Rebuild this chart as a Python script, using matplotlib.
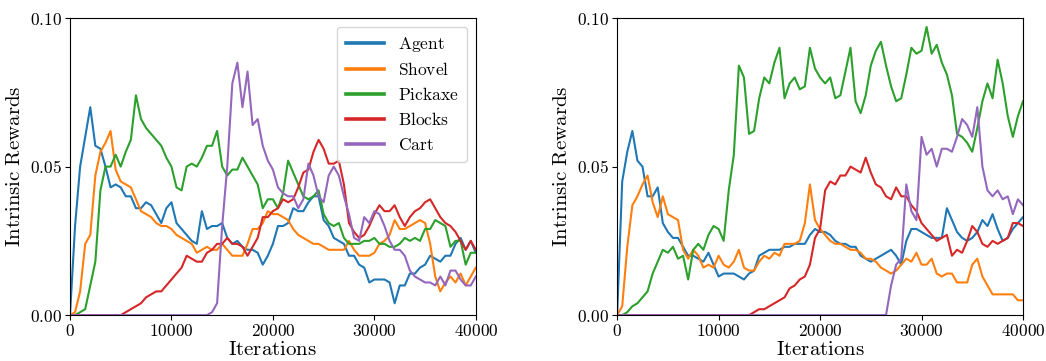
import numpy as np
import matplotlib
matplotlib.use("Agg")
import matplotlib.pyplot as plt
from matplotlib.ticker import FuncFormatter, FixedLocator

plt.rcParams['mathtext.fontset'] = 'cm'
plt.rcParams['font.family'] = ['DejaVu Serif']

# iteration grid (every 500 iterations)
iterations = np.arange(0, 40001, 500)

# values below are in units of 1e-3 (intrinsic reward)
left_agent = [0, 30, 50, 60, 70, 57, 56, 50, 43, 44,
              43, 40, 40, 36, 36, 38, 37, 34, 31, 36,
              38, 31, 29, 27, 25, 24, 35, 29, 30, 30,
              31, 26, 24, 25, 23, 22, 22, 21, 17, 20,
              24, 30, 30, 31, 36, 35, 35, 38, 40, 40,
              32, 30, 26, 25, 24, 20, 20, 17, 16, 11,
              12, 12, 12, 11, 4, 10, 10, 14, 14, 16,
              17, 20, 19, 18, 20, 20, 24, 26, 22, 25,
              21]
left_shovel = [0, 1, 8, 24, 27, 47, 55, 58, 62, 49,
               45, 44, 43, 39, 35, 34, 33, 31, 30, 30,
               29, 27, 26, 25, 24, 21, 22, 23, 22, 22,
               24, 22, 20, 20, 20, 24, 29, 29, 31, 35,
               34, 34, 33, 32, 29, 27, 26, 25, 24, 24,
               23, 22, 22, 22, 22, 25, 22, 20, 20, 20,
               21, 24, 25, 27, 32, 29, 29, 30, 31, 32,
               31, 24, 13, 8, 11, 13, 11, 14, 10, 13,
               16]
left_pickaxe = [0, 0, 1, 2, 10, 18, 42, 50, 50, 54,
                50, 55, 59, 74, 66, 63, 61, 59, 57, 53,
                50, 43, 42, 50, 51, 50, 53, 57, 57, 62,
                50, 47, 49, 49, 53, 50, 47, 44, 36, 39,
                39, 36, 41, 52, 48, 44, 40, 39, 40, 42,
                34, 31, 30, 31, 26, 24, 24, 24, 25, 25,
                26, 24, 24, 23, 23, 24, 26, 25, 26, 25,
                29, 29, 32, 31, 30, 23, 25, 25, 17, 21,
                21]
left_blocks = [0, 0, 0, 0, 0, 0, 0, 0, 0, 0,
               0, 1, 2, 3, 4, 6, 7, 8, 8, 10,
               12, 14, 16, 20, 19, 18, 18, 21, 22, 24,
               24, 26, 24, 24, 23, 20, 23, 26, 33, 33,
               35, 36, 39, 38, 39, 43, 48, 49, 55, 59,
               56, 51, 51, 52, 44, 31, 28, 26, 27, 30,
               34, 37, 35, 35, 37, 33, 30, 33, 35, 36,
               38, 39, 36, 33, 31, 30, 28, 25, 22, 25,
               22]
left_cart = [0, 0, 0, 0, 0, 0, 0, 0, 0, 0,
             0, 0, 0, 0, 0, 0, 0, 0, 0, 0,
             0, 0, 0, 0, 0, 0, 0, 0, 1, 4,
             30, 50, 78, 85, 70, 82, 64, 66, 57, 52,
             49, 43, 41, 40, 40, 36, 39, 51, 47, 40,
             38, 47, 50, 47, 40, 34, 26, 25, 33, 31,
             35, 34, 30, 25, 22, 22, 20, 15, 13, 12,
             11, 11, 10, 13, 10, 15, 15, 12, 10, 10,
             13]

right_agent = [0, 45, 55, 62, 52, 50, 40, 40, 43, 31,
               28, 26, 26, 23, 20, 20, 19, 18, 21, 17,
               13, 14, 14, 14, 13, 12, 14, 15, 20, 21,
               22, 22, 22, 23, 23, 24, 24, 24, 27, 29,
               28, 28, 27, 25, 24, 24, 23, 23, 20, 19,
               18, 19, 20, 21, 22, 20, 17, 25, 29, 29,
               28, 27, 26, 26, 26, 36, 32, 28, 26, 25,
               26, 28, 32, 30, 34, 29, 25, 26, 29, 31,
               33]
right_shovel = [0, 3, 23, 37, 40, 44, 47, 38, 33, 40,
                34, 33, 32, 22, 19, 22, 20, 16, 17, 16,
                20, 17, 16, 18, 22, 16, 15, 15, 18, 20,
                19, 21, 20, 24, 24, 24, 25, 31, 44, 32,
                29, 27, 25, 24, 24, 23, 22, 22, 21, 19,
                19, 18, 16, 15, 14, 15, 17, 19, 18, 21,
                17, 17, 19, 14, 13, 14, 14, 11, 11, 11,
                17, 19, 13, 10, 7, 7, 7, 7, 7, 5,
                5]
right_pickaxe = [0, 0, 1, 3, 4, 6, 8, 14, 18, 22,
                 21, 23, 19, 20, 12, 22, 24, 22, 27, 30,
                 29, 25, 42, 54, 84, 80, 61, 62, 73, 80,
                 78, 85, 90, 73, 78, 80, 76, 77, 90, 83,
                 80, 78, 80, 73, 74, 82, 90, 72, 68, 74,
                 84, 89, 92, 84, 77, 72, 73, 81, 90, 88,
                 89, 97, 88, 91, 85, 81, 74, 61, 60, 58,
                 55, 63, 72, 78, 73, 86, 78, 67, 60, 67,
                 72]
right_blocks = [0, 0, 0, 0, 0, 0, 0, 0, 0, 0,
                0, 0, 0, 0, 0, 0, 0, 0, 0, 0,
                0, 0, 0, 0, 0, 0, 0, 1, 2, 2,
                3, 4, 5, 6, 9, 10, 12, 13, 17, 26,
                29, 42, 45, 44, 47, 47, 50, 49, 48, 53,
                48, 44, 43, 40, 39, 43, 40, 40, 37, 35,
                31, 29, 27, 25, 26, 27, 20, 22, 21, 25,
                30, 28, 24, 23, 25, 24, 25, 26, 31, 31,
                30]
right_cart = [0, 0, 0, 0, 0, 0, 0, 0, 0, 0,
              0, 0, 0, 0, 0, 0, 0, 0, 0, 0,
              0, 0, 0, 0, 0, 0, 0, 0, 0, 0,
              0, 0, 0, 0, 0, 0, 0, 0, 0, 0,
              0, 0, 0, 0, 0, 0, 0, 0, 0, 0,
              0, 0, 0, 0, 10, 17, 19, 44, 35, 32,
              60, 54, 56, 50, 56, 56, 55, 60, 66, 64,
              60, 70, 50, 42, 40, 42, 39, 40, 34, 39,
              37]

labels = ["Agent", "Shovel", "Pickaxe", "Blocks", "Cart"]
colors = ["#1f77b4", "#ff7f0e", "#2ca02c", "#d62728", "#9467bd"]
x_ticks = [0, 10000, 20000, 30000, 40000]
y_ticks = [0.0, 0.05, 0.10]

fig = plt.figure(figsize=(10.46, 3.61), dpi=100)
ax_l = fig.add_axes([0.0669, 0.127, 0.388, 0.823])
ax_r = fig.add_axes([0.590, 0.127, 0.388, 0.823])

left_series = [left_agent, left_shovel, left_pickaxe, left_blocks, left_cart]
right_series = [right_agent, right_shovel, right_pickaxe, right_blocks, right_cart]

for ax, series in ((ax_l, left_series), (ax_r, right_series)):
    for vals, lab, col in zip(series, labels, colors):
        ax.plot(iterations, np.asarray(vals) * 1e-3, color=col, lw=1.5,
                label=r'$\mathrm{%s}$' % lab)
    ax.set_xlim(0, 40000)
    ax.set_ylim(0, 0.10)
    ax.xaxis.set_major_locator(FixedLocator(x_ticks))
    ax.yaxis.set_major_locator(FixedLocator(y_ticks))
    ax.xaxis.set_major_formatter(FuncFormatter(lambda v, p: r'$%d$' % v))
    ax.yaxis.set_major_formatter(FuncFormatter(lambda v, p: r'$%.2f$' % v))
    ax.tick_params(labelsize=12.5, pad=2.5)
    ax.set_xlabel(r'$\mathrm{Iterations}$', fontsize=15, labelpad=0)
    ax.set_ylabel(r'$\mathrm{Intrinsic\ Rewards}$', fontsize=15, labelpad=4)

leg = ax_l.legend(loc='upper right', fontsize=12.5, handlelength=2.2,
                  labelspacing=0.45, borderpad=0.5, framealpha=0.8)
for h in leg.get_lines():
    h.set_linewidth(2.6)

fig.savefig("out.png", dpi=100)
